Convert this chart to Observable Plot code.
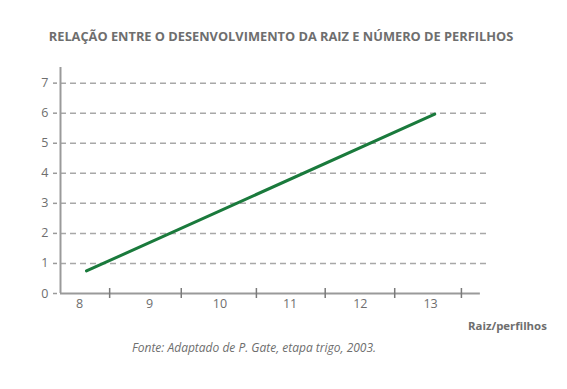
<!DOCTYPE html>
<html>
<head>
<meta charset="utf-8">
<script src="https://cdn.jsdelivr.net/npm/d3@7"></script>
<script src="https://cdn.jsdelivr.net/npm/@observablehq/plot@0.6"></script>
<style>
  body { margin: 0; background: #fff; }
  #wrap { position: relative; width: 567px; height: 389px; font-family: "Open Sans", sans-serif; color: #6e6e6e; }
  #title { position: absolute; left: 0; width: 562px; top: 27px; text-align: center; font-weight: 700; font-size: 12.8px; white-space: nowrap; }
  #xlabel { position: absolute; left: 468px; top: 318px; font-weight: 700; font-size: 11.4px; white-space: nowrap; }
  #caption { position: absolute; left: 132px; top: 339px; font-style: italic; font-size: 12px; white-space: nowrap; }
  #chart { position: absolute; left: 0; top: 0; }
</style>
</head>
<body>
<div id="wrap">
  <div id="chart"></div>
  <div id="title">RELAÇÃO ENTRE O DESENVOLVIMENTO DA RAIZ E NÚMERO DE PERFILHOS</div>
  <div id="xlabel">Raiz/perfilhos</div>
  <div id="caption">Fonte: Adaptado de P. Gate, etapa trigo, 2003.</div>
</div>
<script>
// Data
const raiz = [8.1, 13.06];
const perfilhos = [0.75, 5.97];
const xTickLabels = [8, 9, 10, 11, 12, 13];
const xTickMarks = [8.43, 9.45, 10.52, 11.5, 12.49, 13.44];
const yTickLabels = [0, 1, 2, 3, 4, 5, 6, 7];
const gridValues = [1, 2, 3, 4, 5, 6, 7];

const xMin = 7.73, xAxisEnd = 13.71, xMax = 13.84, yMax = 7.52;
const data = raiz.map((r, i) => ({raiz: r, perfilhos: perfilhos[i]}));

const axisColor = "#9a9a9a";
const textColor = "#6e6e6e";

const chart = Plot.plot({
  width: 567,
  height: 389,
  marginLeft: 60,
  marginRight: 78,
  marginTop: 67,
  marginBottom: 96,
  style: {fontFamily: "'Open Sans', sans-serif", fontSize: "11px", color: textColor, background: "transparent"},
  x: {domain: [xMin, xMax]},
  y: {domain: [0, yMax]},
  marks: [
    Plot.ruleY(gridValues, {x1: xMin, x2: xMax, stroke: "#a8a8a8", strokeWidth: 1.5, strokeDasharray: "6,4"}),
    Plot.ruleX([xMin], {y1: 0, y2: yMax, stroke: axisColor, strokeWidth: 2}),
    Plot.ruleY([0], {x1: xMin, x2: xAxisEnd, stroke: axisColor, strokeWidth: 2}),
    Plot.axisY(yTickLabels, {tickSize: 4, tickPadding: 5, dx: -3, stroke: axisColor, strokeWidth: 1.5, fill: textColor, fontSize: 12.5, label: null}),
    Plot.axisX(xTickLabels, {tickSize: 0, tickPadding: 6, fill: textColor, fontSize: 12.5, label: null}),
    Plot.axisX(xTickMarks, {tickSize: 10, dy: -5, stroke: "#7a7a7a", strokeWidth: 1.5, tickFormat: () => "", label: null}),
    Plot.line(data, {x: "raiz", y: "perfilhos", stroke: "#1a7a3c", strokeWidth: 3})
  ]
});
document.getElementById("chart").appendChild(chart);
</script>
</body>
</html>
